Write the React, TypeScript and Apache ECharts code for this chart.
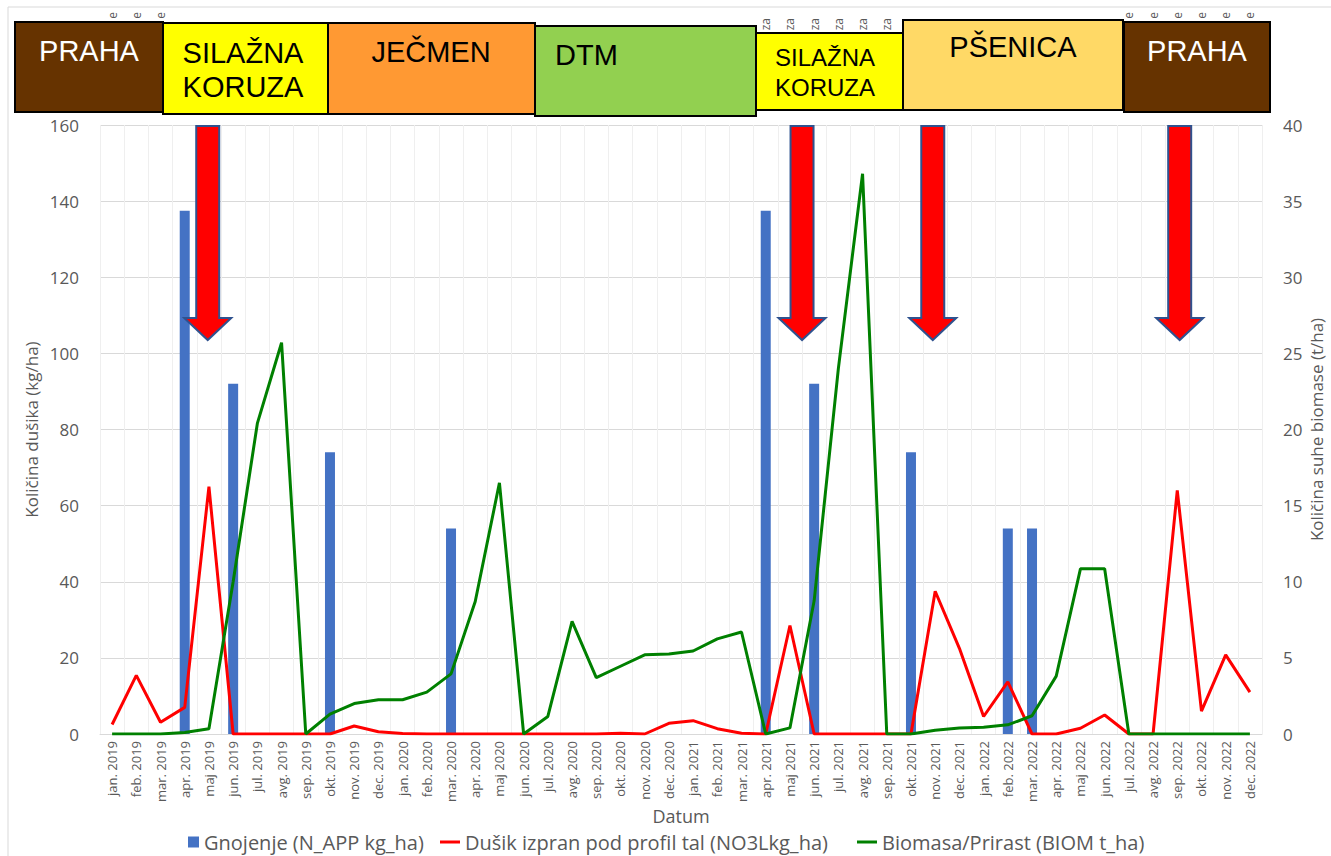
import React, { useEffect, useRef } from "react";
import * as echarts from "echarts";

// ---------- DATA ----------
const monthNames = ["jan.", "feb.", "mar.", "apr.", "maj", "jun.", "jul.", "avg.", "sep.", "okt.", "nov.", "dec."];
const years = [2019, 2020, 2021, 2022];
const categories = years.flatMap((y) => monthNames.map((m) => `${m} ${y}`));

// Gnojenje (N_APP kg_ha) – left axis
const gnojenje = [
  0, 0, 0, 137.5, 0, 92, 0, 0, 0, 74, 0, 0,
  0, 0, 54, 0, 0, 0, 0, 0, 0, 0, 0, 0,
  0, 0, 0, 137.5, 0, 92, 0, 0, 0, 74, 0, 0,
  0, 54, 54, 0, 0, 0, 0, 0, 0, 0, 0, 0,
];

// Dušik izpran pod profil tal (NO3Lkg_ha) – left axis
const dusik = [
  2.5, 15.4, 3.1, 7.0, 65, 0, 0, 0, 0, 0, 2.1, 0.6,
  0.1, 0, 0, 0, 0, 0, 0, 0, 0, 0.2, 0, 2.8,
  3.5, 1.4, 0.2, 0, 28.5, 0, 0, 0, 0, 0, 37.5, 22.5,
  4.6, 13.7, 0, 0, 1.5, 5.0, 0, 0, 64, 6.0, 20.8, 11.0,
];

// Biomasa/Prirast (BIOM t_ha) – right axis
const biomasa = [
  0, 0, 0, 0.1, 0.35, 10.0, 20.4, 25.7, 0, 1.3, 2.0, 2.25,
  2.25, 2.75, 3.95, 8.7, 16.5, 0, 1.15, 7.4, 3.7, 4.45, 5.2, 5.25,
  5.45, 6.25, 6.7, 0, 0.4, 8.75, 24, 36.8, 0, 0, 0.25, 0.4,
  0.45, 0.6, 1.2, 3.8, 10.85, 10.85, 0, 0, 0, 0, 0, 0,
];

const seriesNames = [
  "Gnojenje (N_APP kg_ha)",
  "Dušik izpran pod profil tal (NO3Lkg_ha)",
  "Biomasa/Prirast (BIOM t_ha)",
];

const leftAxis = { min: 0, max: 160, interval: 20 };
const rightAxis = { min: 0, max: 40, interval: 5 };

const cropNames = ["PRAHA", "SILAŽNA\nKORUZA", "JEČMEN", "DTM", "SILAŽNA\nKORUZA", "PŠENICA", "PRAHA"];

// ---------- LAYOUT (annotations) ----------
const cropBoxes = [
  { x0: 15, x1: 163, y0: 22, y1: 112, fill: "#663300", color: "#ffffff", tx: 89, ty: 51, align: "center", size: 29 },
  { x0: 163, x1: 328, y0: 23, y1: 114, fill: "#ffff00", color: "#000000", tx: 243, ty: 70, align: "center", size: 29 },
  { x0: 328, x1: 535, y0: 23, y1: 114, fill: "#ff9933", color: "#000000", tx: 431, ty: 52, align: "center", size: 29 },
  { x0: 535, x1: 756, y0: 26, y1: 116, fill: "#92d050", color: "#000000", tx: 555, ty: 55, align: "left", size: 29 },
  { x0: 756, x1: 903, y0: 33, y1: 110, fill: "#ffff00", color: "#000000", tx: 825, ty: 72, align: "center", size: 24 },
  { x0: 903, x1: 1123, y0: 20, y1: 110, fill: "#ffd966", color: "#000000", tx: 1013, ty: 47, align: "center", size: 29 },
  { x0: 1124, x1: 1270, y0: 22, y1: 112, fill: "#663300", color: "#ffffff", tx: 1197, ty: 51, align: "center", size: 29 },
];
const boxLineHeights = [0, 34, 0, 0, 30, 0, 0];

const arrowAt = [3.95, 28.5, 33.9, 44.1]; // category index positions
const topFragments = [
  { text: "e", idx: [0, 1, 2], y: 12 },
  { text: "za", idx: [27, 28, 29, 30, 31, 32], y: 18 },
  { text: "e", idx: [42, 43, 44, 45, 46, 47], y: 12 },
];

const GRAY = "#595959";
const FONT = "'Open Sans', 'Noto Sans', sans-serif";

export default function App() {
  const ref = useRef<HTMLDivElement>(null);

  useEffect(() => {
    if (!ref.current) return;
    const chart = echarts.init(ref.current, null, { renderer: "svg" });

    const legendText = { color: GRAY, fontSize: 20, fontFamily: FONT, lineHeight: 22 };

    const option: any = {
      animation: false,
      backgroundColor: "#ffffff",
      textStyle: { fontFamily: FONT },
      grid: { left: 100, right: 69, top: 125, bottom: 122, outerBoundsMode: "none", containLabel: false },
      legend: [
        {
          data: [{ name: seriesNames[0], icon: "rect" }],
          left: 188, top: 831, itemWidth: 11, itemHeight: 11, padding: 0, textStyle: legendText,
        },
        {
          data: [{ name: seriesNames[1], icon: "rect" }],
          left: 440, top: 831, itemWidth: 20, itemHeight: 3, padding: 0, textStyle: legendText,
        },
        {
          data: [{ name: seriesNames[2], icon: "rect" }],
          left: 857, top: 831, itemWidth: 20, itemHeight: 3, padding: 0, textStyle: legendText,
        },
      ],
      xAxis: {
        type: "category",
        data: categories,
        boundaryGap: true,
        name: "Datum",
        nameLocation: "middle",
        nameGap: 73,
        nameMoveOverlap: false,
        nameTextStyle: { color: GRAY, fontSize: 18, fontFamily: FONT },
        axisLine: { lineStyle: { color: "#d9d9d9" } },
        axisTick: { show: false },
        axisLabel: { rotate: 90, interval: 0, color: GRAY, fontSize: 13, margin: 7, fontFamily: FONT },
        splitLine: { show: true, interval: 0, lineStyle: { color: "#efefef" } },
      },
      yAxis: [
        {
          type: "value",
          ...leftAxis,
          name: "Količina dušika (kg/ha)",
          nameLocation: "middle",
          nameGap: 60,
          nameMoveOverlap: false,
          nameRotate: 90,
          nameTextStyle: { color: GRAY, fontSize: 17, fontFamily: FONT },
          axisLine: { show: false },
          axisTick: { show: false },
          axisLabel: { color: GRAY, fontSize: 17, margin: 21, fontFamily: FONT },
          splitLine: { lineStyle: { color: "#d9d9d9" } },
        },
        {
          type: "value",
          ...rightAxis,
          name: "Količina suhe biomase (t/ha)",
          nameLocation: "middle",
          nameGap: 46,
          nameMoveOverlap: false,
          nameRotate: 90,
          nameTextStyle: { color: GRAY, fontSize: 17, fontFamily: FONT },
          axisLine: { show: false },
          axisTick: { show: false },
          axisLabel: { color: GRAY, fontSize: 17, margin: 21, fontFamily: FONT },
          splitLine: { show: false },
        },
      ],
      series: [
        {
          name: seriesNames[0],
          type: "bar",
          yAxisIndex: 0,
          data: gnojenje,
          barWidth: 10,
          itemStyle: { color: "#4472c4" },
          z: 1,
        },
        {
          name: seriesNames[1],
          type: "line",
          yAxisIndex: 0,
          data: dusik,
          symbol: "none",
          lineStyle: { color: "#ff0000", width: 3 },
          itemStyle: { color: "#ff0000" },
          z: 3,
        },
        {
          name: seriesNames[2],
          type: "line",
          yAxisIndex: 1,
          data: biomasa,
          symbol: "none",
          lineStyle: { color: "#008000", width: 3 },
          itemStyle: { color: "#008000" },
          z: 4,
        },
      ],
    };
    chart.setOption(option);

    const x0 = chart.convertToPixel({ xAxisIndex: 0 }, 0) as number;
    const x1 = chart.convertToPixel({ xAxisIndex: 0 }, 1) as number;
    const px = (i: number) => x0 + (x1 - x0) * i;
    const py = (v: number) => chart.convertToPixel({ yAxisIndex: 0 }, v) as number;

    const graphics: any[] = [];
    graphics.push({
      type: "rect",
      shape: { x: 8, y: 7, width: 1340, height: 870 },
      style: { fill: "none", stroke: "#d9d9d9", lineWidth: 1 },
      z: 0,
      silent: true,
    });

    topFragments.forEach((f) => {
      f.idx.forEach((i) => {
        graphics.push({
          type: "text",
          x: px(i),
          y: f.y,
          rotation: Math.PI / 2,
          style: {
            text: f.text, fill: GRAY, fontSize: 12, fontFamily: FONT,
            align: "right", verticalAlign: "middle",
          },
          z: 90,
        });
      });
    });

    cropBoxes.forEach((b, k) => {
      graphics.push({
        type: "rect",
        shape: { x: b.x0, y: b.y0, width: b.x1 - b.x0, height: b.y1 - b.y0 },
        style: { fill: b.fill, stroke: "#000000", lineWidth: 2 },
        z: 100,
      });
      graphics.push({
        type: "text",
        x: b.tx,
        y: b.ty,
        style: {
          text: cropNames[k],
          fill: b.color,
          fontSize: b.size,
          fontFamily: "'Liberation Sans', Arial, sans-serif",
          align: b.align,
          verticalAlign: "middle",
          lineHeight: boxLineHeights[k] || b.size,
        },
        z: 101,
      });
    });

    const topY = py(160) + 1;
    const headY = py(109.3);
    const tipY = py(103.5);
    arrowAt.forEach((a) => {
      const cx = px(a);
      graphics.push({
        type: "polygon",
        shape: {
          points: [
            [cx - 11.5, topY], [cx + 11.5, topY], [cx + 11.5, headY], [cx + 23.5, headY],
            [cx, tipY], [cx - 23.5, headY], [cx - 11.5, headY],
          ],
        },
        style: { fill: "#ff0000", stroke: "#2f528f", lineWidth: 2 },
        z: 50,
      });
    });

    chart.setOption({ graphic: graphics });

    return () => chart.dispose();
  }, []);

  return (
    <div
      ref={ref}
      style={{ position: "absolute", left: 0, top: 0, width: 1331, height: 856, background: "#fff" }}
    />
  );
}
